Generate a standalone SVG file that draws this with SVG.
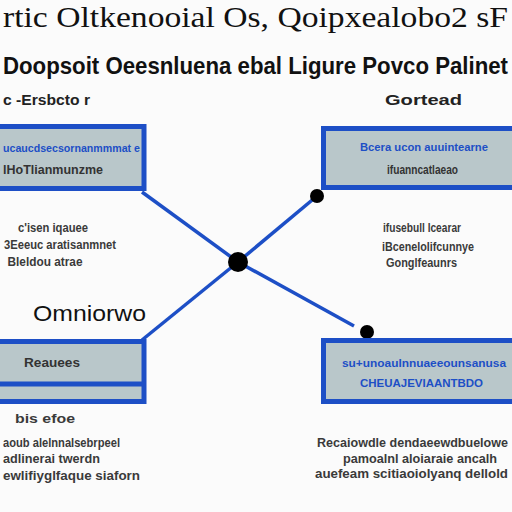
<svg xmlns="http://www.w3.org/2000/svg" width="512" height="512" viewBox="0 0 512 512">
<style>
.box{fill:#b9c7ca;stroke:#1d4fc6;stroke-width:5}
.conn{stroke:#1d4fc6;stroke-width:3.5;fill:none}
.dot{fill:#000}
.title{font-family:"Liberation Serif",serif;font-size:30px;fill:#111}
.sub{font-family:"Liberation Sans",sans-serif;font-weight:bold;font-size:20px;fill:#111}
.lab{font-family:"Liberation Sans",sans-serif;font-weight:bold;font-size:14px;fill:#222}
.bt{font-family:"Liberation Sans",sans-serif;font-weight:bold;font-size:11px;fill:#1d4fc6}
.bd{font-family:"Liberation Sans",sans-serif;font-weight:bold;font-size:13px;fill:#333}
.sm{font-family:"Liberation Sans",sans-serif;font-weight:bold;font-size:12px;fill:#3a3a3a}
.mid{text-anchor:middle}
</style>
<rect width="512" height="512" fill="#fbfbfb"/>
<text class="title" x="3" y="27" textLength="505" lengthAdjust="spacingAndGlyphs">rtic Oltkenooial Os, Qoipxealobo2 sF</text>
<text class="sub" x="3" y="74" textLength="505" lengthAdjust="spacingAndGlyphs" transform="translate(0,-14.8) scale(1,1.2)">Doopsoit Oeesnluena ebal Ligure Povco Palinet</text>
<text class="lab" x="3" y="105" textLength="87" lengthAdjust="spacingAndGlyphs">c -Ersbcto r</text>
<text class="lab" x="385" y="105" textLength="77" lengthAdjust="spacingAndGlyphs">Gortead</text>
<g id="connectors">
<line class="conn" x1="142" y1="192" x2="238" y2="262"/>
<line class="conn" x1="238" y1="262" x2="317" y2="196"/>
<line class="conn" x1="238" y1="262" x2="354" y2="326"/>
<line class="conn" x1="238" y1="262" x2="142" y2="340"/>
<circle class="dot" cx="238" cy="262" r="10"/>
<circle class="dot" cx="317" cy="196" r="7"/>
<circle class="dot" cx="367" cy="332" r="7"/>
</g>
<g id="node-top-left">
<rect class="box" x="-6" y="126.5" width="150" height="62"/>
<text class="bt" x="3" y="152" textLength="137" lengthAdjust="spacingAndGlyphs">ucaucdsecsornanmmmat e</text>
<text class="bd" x="3" y="174" textLength="100" lengthAdjust="spacingAndGlyphs">lHoTlianmunzme</text>
<text class="sm mid" x="53" y="232" textLength="70" lengthAdjust="spacingAndGlyphs">c'isen iqauee</text>
<text class="sm mid" x="60" y="249" textLength="112" lengthAdjust="spacingAndGlyphs">3Eeeuc aratisanmnet</text>
<text class="sm mid" x="45" y="266" textLength="75" lengthAdjust="spacingAndGlyphs">Bleldou atrae</text>
</g>
<g id="node-top-right">
<rect class="box" x="323.5" y="128.5" width="200" height="59"/>
<text class="bt" x="360" y="151" textLength="128" lengthAdjust="spacingAndGlyphs">Bcera ucon auuintearne</text>
<text class="bd" x="387" y="174" textLength="71" lengthAdjust="spacingAndGlyphs">ifuanncatlaeao</text>
<text class="sm" x="383" y="232" textLength="78" lengthAdjust="spacingAndGlyphs">ifusebull lcearar</text>
<text class="sm" x="382" y="251" textLength="92" lengthAdjust="spacingAndGlyphs">iBcenelolifcunnye</text>
<text class="sm" x="386" y="267" textLength="71" lengthAdjust="spacingAndGlyphs">Gonglfeaunrs</text>
</g>
<g id="node-bottom-left">
<text x="33" y="321" font-family="Liberation Sans, sans-serif" font-size="22" fill="#111" textLength="113" lengthAdjust="spacingAndGlyphs">Omniorwo</text>
<rect class="box" x="-6" y="341.5" width="150" height="60"/>
<line x1="-6" y1="384" x2="144" y2="384" stroke="#1d4fc6" stroke-width="5"/>
<text class="bd" x="24" y="367" textLength="56" lengthAdjust="spacingAndGlyphs">Reauees</text>
<text class="sm" x="15" y="423" textLength="60" lengthAdjust="spacingAndGlyphs">bis efoe</text>
<text class="sm" x="3" y="447" textLength="117" lengthAdjust="spacingAndGlyphs">aoub alelnnalsebrpeel</text>
<text class="sm" x="3" y="463" textLength="97" lengthAdjust="spacingAndGlyphs">adlinerai twerdn</text>
<text class="sm" x="3" y="480" textLength="137" lengthAdjust="spacingAndGlyphs">ewlifiyglfaque siaforn</text>
</g>
<g id="node-bottom-right">
<rect class="box" x="323.5" y="340.5" width="200" height="61"/>
<text class="bt" x="342" y="367" textLength="164" lengthAdjust="spacingAndGlyphs">su+unoaulnnuaeeounsanusa</text>
<text class="bt" x="360" y="387" textLength="123" lengthAdjust="spacingAndGlyphs">CHEUAJEVIAANTBDO</text>
<text class="sm" x="317" y="447" textLength="191" lengthAdjust="spacingAndGlyphs">Recaiowdle dendaeewdbuelowe</text>
<text class="sm" x="343" y="463" textLength="154" lengthAdjust="spacingAndGlyphs">pamoalnl aloiaraie ancalh</text>
<text class="sm" x="315" y="478" textLength="193" lengthAdjust="spacingAndGlyphs">auefeam scitiaoiolyanq dellold</text>
</g>
</svg>
